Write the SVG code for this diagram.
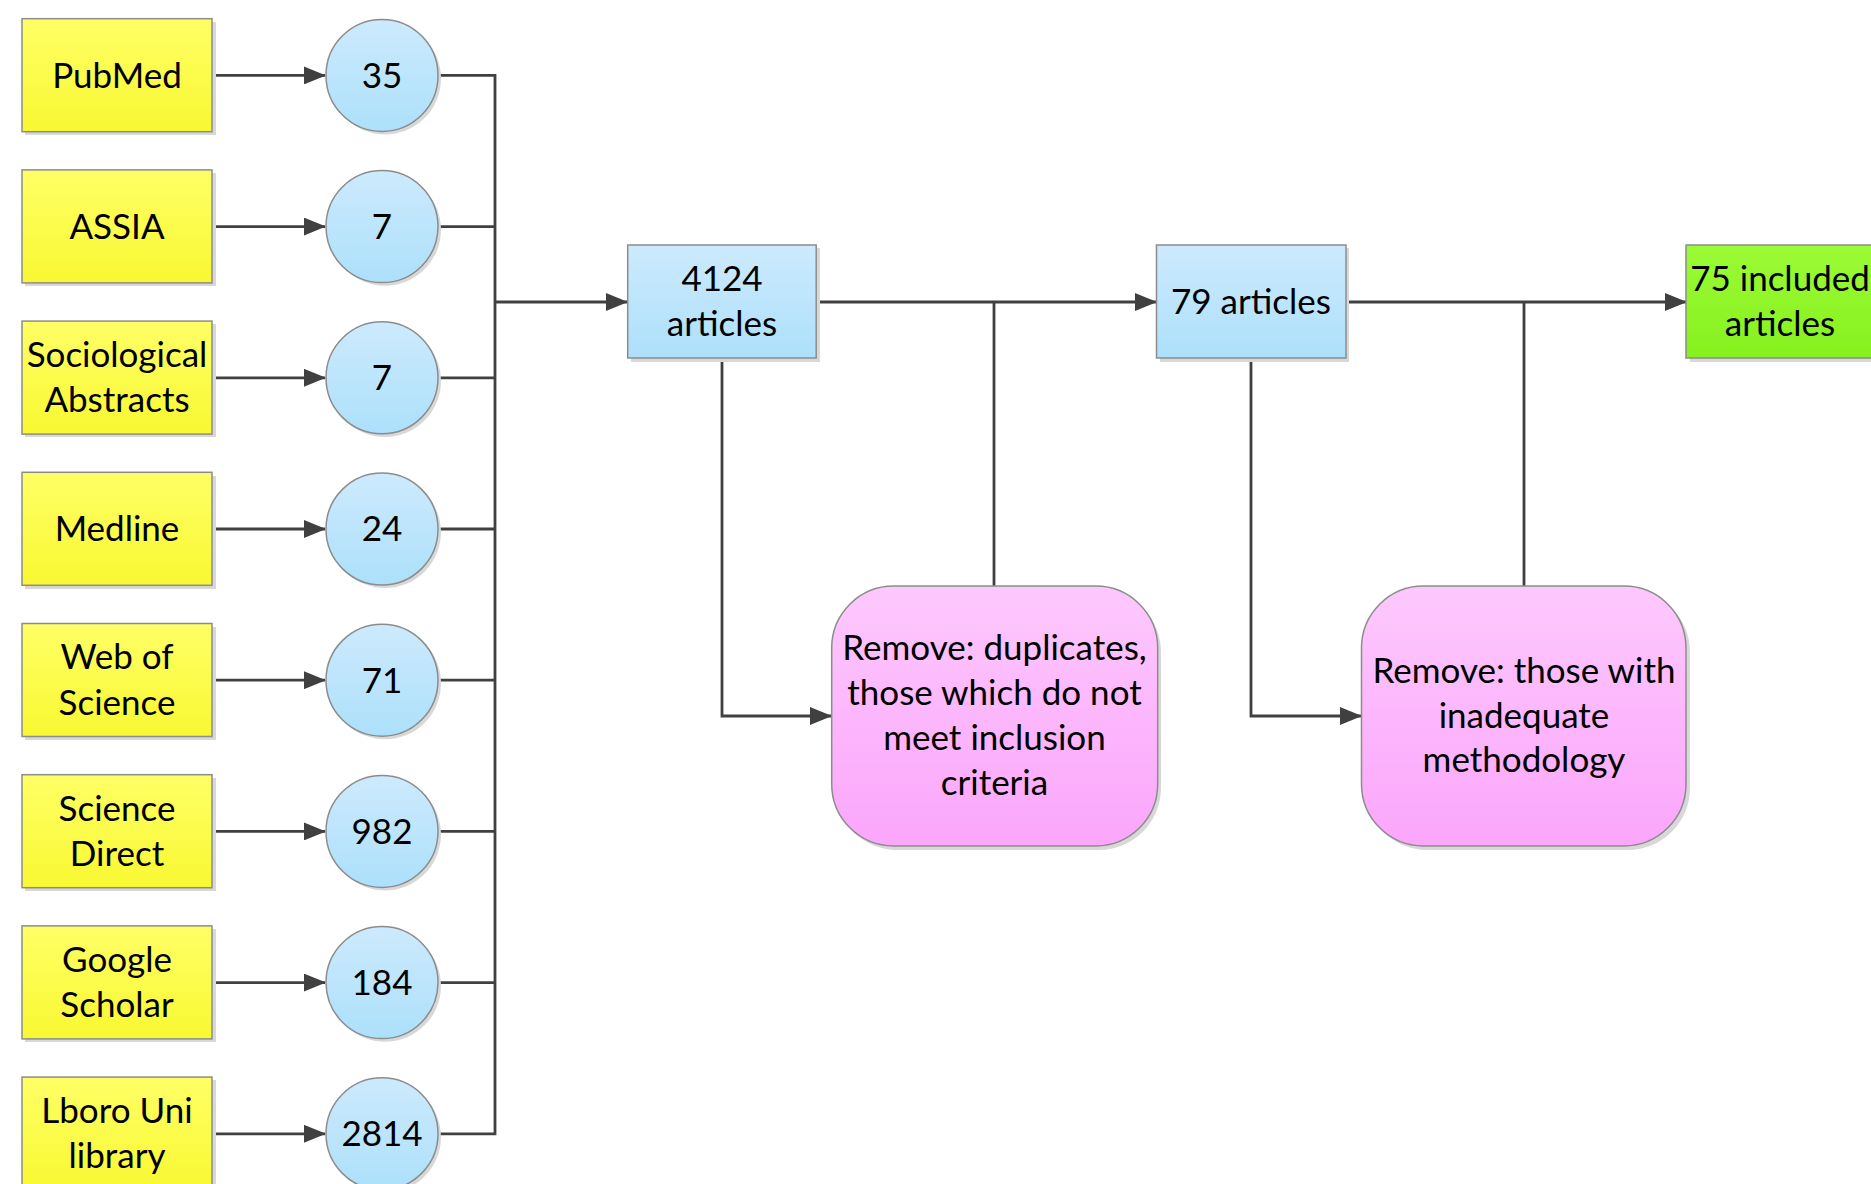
<svg xmlns="http://www.w3.org/2000/svg" width="1871" height="1184" viewBox="0 0 1871 1184">
<defs>
<linearGradient id="gY" x1="0" y1="0" x2="0" y2="1"><stop offset="0" stop-color="#ffff66"/><stop offset="1" stop-color="#f8f832"/></linearGradient>
<linearGradient id="gB" x1="0" y1="0" x2="0" y2="1"><stop offset="0" stop-color="#cdeafd"/><stop offset="1" stop-color="#ace0fb"/></linearGradient>
<linearGradient id="gP" x1="0" y1="0" x2="0" y2="1"><stop offset="0" stop-color="#fdc8fd"/><stop offset="1" stop-color="#fba6fb"/></linearGradient>
<linearGradient id="gG" x1="0" y1="0" x2="0" y2="1"><stop offset="0" stop-color="#9bfb35"/><stop offset="1" stop-color="#86f01e"/></linearGradient>
<marker id="ah" markerUnits="userSpaceOnUse" markerWidth="22" markerHeight="18" refX="21" refY="9" orient="auto"><path d="M0,0 L22,9 L0,18 Z" fill="#404040"/></marker>
</defs>
<style>
.ybox{fill:url(#gY);stroke:#8c8c8c;stroke-width:1.5}
.bbox{fill:url(#gB);stroke:#8c8c8c;stroke-width:1.5}
.pbox{fill:url(#gP);stroke:#8c8c8c;stroke-width:1.5}
.gbox{fill:url(#gG);stroke:#8c8c8c;stroke-width:1.5}
.sh{fill:#d8d8d8}
.t{font-family:Lato,"Open Sans","Liberation Sans",sans-serif;font-size:35px;fill:#000;text-anchor:middle}
.c{fill:none;stroke:#404040;stroke-width:2.8}
</style>
<rect width="1871" height="1184" fill="#ffffff"/>

<g id="connectors">
<path class="c" d="M212,75.4 H325" marker-end="url(#ah)"/>
<path class="c" d="M212,226.6 H325" marker-end="url(#ah)"/>
<path class="c" d="M212,377.8 H325" marker-end="url(#ah)"/>
<path class="c" d="M212,529 H325" marker-end="url(#ah)"/>
<path class="c" d="M212,680.2 H325" marker-end="url(#ah)"/>
<path class="c" d="M212,831.4 H325" marker-end="url(#ah)"/>
<path class="c" d="M212,982.6 H325" marker-end="url(#ah)"/>
<path class="c" d="M212,1133.8 H325" marker-end="url(#ah)"/>
<path class="c" d="M438,75.4 H495 V1133.8 H438"/>
<path class="c" d="M438,226.6 H495"/>
<path class="c" d="M438,377.8 H495"/>
<path class="c" d="M438,529 H495"/>
<path class="c" d="M438,680.2 H495"/>
<path class="c" d="M438,831.4 H495"/>
<path class="c" d="M438,982.6 H495"/>
<path class="c" d="M495,302 H627" marker-end="url(#ah)"/>
<path class="c" d="M816,302 H1156" marker-end="url(#ah)"/>
<path class="c" d="M994,586 V302"/>
<path class="c" d="M1346,302 H1686" marker-end="url(#ah)"/>
<path class="c" d="M1524,586 V302"/>
<path class="c" d="M722,358 V716 H831" marker-end="url(#ah)"/>
<path class="c" d="M1251,358 V716 H1361" marker-end="url(#ah)"/>
</g>

<g id="n-pubmed"><rect class="sh" x="25" y="22" width="191" height="113"/><rect class="ybox" x="22" y="18.7" width="190" height="113"/><text class="t" x="117" y="87.8">PubMed</text></g>
<g id="n-assia"><rect class="sh" x="25" y="173" width="191" height="113"/><rect class="ybox" x="22" y="169.9" width="190" height="113"/><text class="t" x="117" y="239">ASSIA</text></g>
<g id="n-socio"><rect class="sh" x="25" y="324" width="191" height="113"/><rect class="ybox" x="22" y="321.1" width="190" height="113"/><text class="t" x="117" y="367">Sociological</text><text class="t" x="117" y="412.2">Abstracts</text></g>
<g id="n-medline"><rect class="sh" x="25" y="476" width="191" height="113"/><rect class="ybox" x="22" y="472.3" width="190" height="113"/><text class="t" x="117" y="541.4">Medline</text></g>
<g id="n-wos"><rect class="sh" x="25" y="627" width="191" height="113"/><rect class="ybox" x="22" y="623.5" width="190" height="113"/><text class="t" x="117" y="669.4">Web of</text><text class="t" x="117" y="714.6">Science</text></g>
<g id="n-sd"><rect class="sh" x="25" y="778" width="191" height="113"/><rect class="ybox" x="22" y="774.7" width="190" height="113"/><text class="t" x="117" y="820.6">Science</text><text class="t" x="117" y="865.8">Direct</text></g>
<g id="n-gs"><rect class="sh" x="25" y="929" width="191" height="113"/><rect class="ybox" x="22" y="925.9" width="190" height="113"/><text class="t" x="117" y="971.8">Google</text><text class="t" x="117" y="1017">Scholar</text></g>
<g id="n-lboro"><rect class="sh" x="25" y="1080" width="191" height="113"/><rect class="ybox" x="22" y="1077.1" width="190" height="113"/><text class="t" x="117" y="1123">Lboro Uni</text><text class="t" x="117" y="1168.2">library</text></g>

<g id="c-35"><circle class="sh" cx="385" cy="78.5" r="56"/><circle class="bbox" cx="382" cy="75.4" r="56"/><text class="t" x="382" y="87.8">35</text></g>
<g id="c-7a"><circle class="sh" cx="385" cy="229.7" r="56"/><circle class="bbox" cx="382" cy="226.6" r="56"/><text class="t" x="382" y="239">7</text></g>
<g id="c-7b"><circle class="sh" cx="385" cy="380.9" r="56"/><circle class="bbox" cx="382" cy="377.8" r="56"/><text class="t" x="382" y="390.2">7</text></g>
<g id="c-24"><circle class="sh" cx="385" cy="532.1" r="56"/><circle class="bbox" cx="382" cy="529" r="56"/><text class="t" x="382" y="541.4">24</text></g>
<g id="c-71"><circle class="sh" cx="385" cy="683.3" r="56"/><circle class="bbox" cx="382" cy="680.2" r="56"/><text class="t" x="382" y="692.6">71</text></g>
<g id="c-982"><circle class="sh" cx="385" cy="834.5" r="56"/><circle class="bbox" cx="382" cy="831.4" r="56"/><text class="t" x="382" y="843.8">982</text></g>
<g id="c-184"><circle class="sh" cx="385" cy="985.7" r="56"/><circle class="bbox" cx="382" cy="982.6" r="56"/><text class="t" x="382" y="995">184</text></g>
<g id="c-2814"><circle class="sh" cx="385" cy="1136.9" r="56"/><circle class="bbox" cx="382" cy="1133.8" r="56"/><text class="t" x="382" y="1146.2">2814</text></g>

<g id="n-4124"><rect class="sh" x="631" y="248" width="189" height="114"/><rect class="bbox" x="627.7" y="245" width="188.5" height="113"/><text class="t" x="722" y="291.4">4124</text><text class="t" x="722" y="336.4">articles</text></g>
<g id="n-79"><rect class="sh" x="1160" y="248" width="189" height="114"/><rect class="bbox" x="1156.5" y="245" width="189.5" height="113"/><text class="t" x="1251" y="313.9">79 articles</text></g>
<g id="n-75"><rect class="sh" x="1690" y="248" width="189" height="114"/><rect class="gbox" x="1686" y="245" width="190" height="113"/><text class="t" x="1780" y="291.4">75 included</text><text class="t" x="1780" y="336.4">articles</text></g>

<g id="n-remove1"><rect class="sh" x="835" y="590" width="326" height="260" rx="62" ry="62"/><rect class="pbox" x="831.7" y="586" width="326" height="260" rx="62" ry="62"/><text class="t" x="994.5" y="660.4">Remove: duplicates,</text><text class="t" x="994.5" y="705.4">those which do not</text><text class="t" x="994.5" y="749.9">meet inclusion</text><text class="t" x="994.5" y="795.4">criteria</text></g>
<g id="n-remove2"><rect class="sh" x="1365" y="590" width="325" height="260" rx="62" ry="62"/><rect class="pbox" x="1361.5" y="586" width="324.5" height="260" rx="62" ry="62"/><text class="t" x="1524" y="683">Remove: those with</text><text class="t" x="1524" y="728.4">inadequate</text><text class="t" x="1524" y="772.4">methodology</text></g>
</svg>
